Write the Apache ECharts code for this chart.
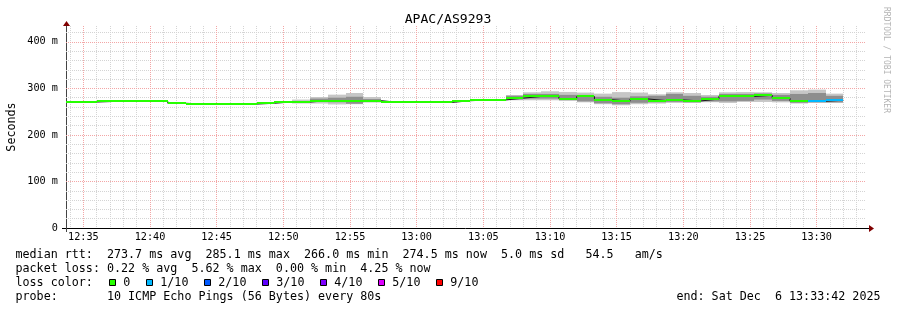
<!DOCTYPE html>
<html><head><meta charset="utf-8">
<script src="https://cdn.jsdelivr.net/npm/echarts@6/dist/echarts.min.js"></script>
<style>html,body{margin:0;padding:0;background:#fff}#c{width:897px;height:310px}</style>
</head><body><div id="c"></div>
<script>
// ---------------- data ----------------
const stepEnd = ['12:34:40','12:36:00','12:37:20','12:38:40','12:40:00','12:41:20','12:42:40','12:44:00','12:45:20','12:46:40','12:48:00','12:49:20','12:50:40','12:52:00','12:53:20','12:54:40','12:56:00','12:57:20','12:58:40','13:00:00','13:01:20','13:02:40','13:04:00','13:05:20','13:06:40','13:08:00','13:09:20','13:10:40','13:12:00','13:13:20','13:14:40','13:16:00','13:17:20','13:18:40','13:20:00','13:21:20','13:22:40','13:24:00','13:25:20','13:26:40','13:28:00','13:29:20','13:30:40','13:32:00'];
const median = [270.6,270.6,271.9,272.7,272.7,272.7,268.0,266.2,266.2,266.2,266.2,268.0,270.8,270.5,273.8,273.4,273.4,273.6,269.8,269.8,269.8,269.8,273.4,275.1,275.1,279.0,282.6,282.6,278.0,282.6,275.5,272.3,277.3,273.8,275.1,273.0,277.0,283.0,282.6,285.1,279.0,272.3,272.3,274.5];
const smokeMin = [270,270,271,272,272,272,267.5,265.5,265.5,265.5,265.5,267.5,270,267.5,267.4,265.4,266,269.5,269,269,269,269,273,274.5,274.5,274.4,274.4,274.4,273,270,266,263.7,266,267.4,268.7,268.7,270.2,268.7,270.8,270.8,270,267.4,268.7,268.7];
const smokeLo  = [270.5,270.5,271.5,272.5,272.5,272.5,268,266,266,266,266,268,270.5,269,271,270,267,271,269.5,269.5,269.5,269.5,273.2,275,275,276,278,278,275,272,268,266,269,270,271,270,272,272,273,276,273,269,270,270];
const smokeHi  = [270.8,270.8,272,273,273,273,268.2,266.3,266.3,266.3,266.3,268.2,271,272,278,280,282,277,270,270,270,270,273.6,275.3,275.3,284,288,288,286,286,282,280,283,284,288,284,282,288,288,289,286,288,290,284];
const smokeMax = [271,271,272.5,273.5,273.5,273.5,268.5,266.5,266.5,266.5,266.5,268.5,271.5,276,281.5,286.5,290,281.5,270.5,270.5,270.5,270.5,274,276,276,285.8,291.6,293.7,292.3,291,288.7,292,291,287.3,291.6,290,285.8,291.6,292,291.6,290,295.8,297.3,288.7];
const lossPings = [0,0,0,0,0,0,0,0,0,0,0,0,0,0,0,0,0,0,0,0,0,0,0,0,0,0,0,0,0,0,0,0,0,0,0,0,0,0,0,0,0,0,1,1];
const xTickLabels = ['12:35','12:40','12:45','12:50','12:55','13:00','13:05','13:10','13:15','13:20','13:25','13:30'];
const yTickLabels = ['0','100 m','200 m','300 m','400 m'];
const lossLegendLabels = ['0','1/10','2/10','3/10','4/10','5/10','9/10'];
const lossLegendColors = ['#26ff00','#00b8ff','#0059ff','#5e00ff','#7e00ff','#dd00ff','#ff0000'];
const lossLegendPings  = [0,1,2,3,4,5,9];
const STEP = 80;
const rangeStart = '12:33:42', rangeEnd = '13:33:42';
const legendLines = [
  'median rtt:  273.7 ms avg  285.1 ms max  266.0 ms min  274.5 ms now  5.0 ms sd   54.5   am/s',
  'packet loss: 0.22 % avg  5.62 % max  0.00 % min  4.25 % now',
  'loss color:',
  'probe:       10 ICMP Echo Pings (56 Bytes) every 80s'
];
const endText = 'end: Sat Dec  6 13:33:42 2025';
const titleText = 'APAC/AS9293';

// ---------------- helpers ----------------
const toSec = s => { const p = s.split(':').map(Number); return p[0]*3600 + p[1]*60 + (p[2]||0); };
const T0 = toSec(rangeStart), T1 = toSec(rangeEnd);
const majorX = xTickLabels.map(toSec);
const minorX = [];
for (let t = Math.ceil(T0/60)*60; t <= T1; t += 60) minorX.push(t);
function lossColor(n){ let idx = 0; for (let i=0;i<lossLegendPings.length;i++) if (n >= lossLegendPings[i]) idx = i; return lossLegendColors[idx]; }

const MONO = '"DejaVu Sans Mono", monospace';
const GREY = '#d4d4d4', RED = '#f3a6a6';

const chart = echarts.init(document.getElementById('c'), null, {renderer:'canvas'});

function smokeItem(params, api){
  const t1 = api.value(0), t0 = t1 - STEP;
  const mk = (lo, hi, color) => {
    const a = api.coord([t0, hi]), b = api.coord([t1, lo]);
    const x0 = Math.round(a[0]), x1 = Math.round(b[0]);
    return {type:'rect', shape:{x:x0, y:a[1], width:x1-x0, height:b[1]-a[1]}, style:{fill:color}};
  };
  return {type:'group', children:[
    mk(api.value(1), api.value(4), '#c6c6c6'),
    mk(api.value(2), api.value(3), '#8e8e8e')
  ]};
}
function medItem(params, api){
  const t1 = api.value(0), t0 = t1 - STEP;
  const a = api.coord([t0, api.value(1)]), b = api.coord([t1, api.value(1)]);
  const x0 = Math.round(a[0]), x1 = Math.round(b[0]);
  const y = Math.round(a[1] - 1);
  return {type:'rect', shape:{x:x0, y:y, width:x1-x0, height:2}, style:{fill: lossColor(api.value(2))}};
}

const graphics = [
  {type:'text', x:448, y:19.5, style:{text:titleText, font:'13.1px '+MONO, fill:'#000', align:'center', verticalAlign:'middle'}},
  {type:'text', x:11.5, y:127, rotation:Math.PI/2, style:{text:'Seconds', font:'11.7px '+MONO, fill:'#000', align:'center', verticalAlign:'middle'}},
  {type:'text', x:886.5, y:60, rotation:-Math.PI/2, style:{text:'RRDTOOL / TOBI OETIKER', font:'8px '+MONO, fill:'#b4b4b4', align:'center', verticalAlign:'middle'}},
  // axis extensions & arrows
  {type:'line', shape:{x1:62, y1:228.5, x2:869, y2:228.5}, style:{stroke:'#000', lineWidth:1}},
  {type:'polygon', shape:{points:[[869,225],[874,228.5],[869,232]]}, style:{fill:'#800000'}},
  {type:'line', shape:{x1:66.5, y1:232, x2:66.5, y2:25}, style:{stroke:'#444', lineWidth:1}},
  {type:'polygon', shape:{points:[[63,26],[66.5,21],[70,26]]}, style:{fill:'#800000'}},
  {type:'text', x:880.5, y:296.7, style:{text:endText, font:'11.7px '+MONO, fill:'#000', align:'right', verticalAlign:'middle'}}
];
const rowsY = [255, 268.5, 282.7, 296.7];
legendLines.forEach((s,i)=>graphics.push({type:'text', x:15.5, y:rowsY[i], style:{text:s, font:'11.7px '+MONO, fill:'#000', align:'left', verticalAlign:'middle'}}));
lossLegendLabels.forEach((lab,i)=>{
  const x = i===0 ? 109 : 146 + 58*(i-1);
  graphics.push({type:'rect', shape:{x:x+0.5, y:279.5, width:6, height:6}, style:{fill:lossLegendColors[i], stroke:'#000', lineWidth:1}});
  graphics.push({type:'text', x:x+14.3, y:282.7, style:{text:lab, font:'11.7px '+MONO, fill:'#000', align:'left', verticalAlign:'middle'}});
});

const option = {
  animation:false,
  backgroundColor:'#fff',
  grid:{left:66, top:26, width:800, height:202, containLabel:false, outerBoundsMode:'none'},
  xAxis:[
    {type:'value', min:T0, max:T1, z:1,
     axisLine:{show:false}, axisTick:{show:false, customValues:majorX},
     axisLabel:{customValues:majorX, margin:4, color:'#000', fontFamily:MONO, fontSize:10.2,
       formatter:v=>{const i=majorX.indexOf(v); return i>=0?xTickLabels[i]:'';}},
     splitLine:{show:true, lineStyle:{color:RED, width:1, type:[1,1]}}},
    {type:'value', min:T0, max:T1, position:'bottom', z:0,
     axisLine:{show:false}, axisTick:{show:false, customValues:minorX}, axisLabel:{show:false},
     splitLine:{show:true, lineStyle:{color:GREY, width:1, type:[1,1]}}}
  ],
  yAxis:[
    {type:'value', min:0, max:434, interval:100, z:1,
     axisLine:{show:false}, axisTick:{show:false},
     axisLabel:{margin:8, color:'#000', fontFamily:MONO, fontSize:10.2, showMaxLabel:false,
       formatter:v=>{const i=Math.round(v/100); return (v%100===0 && yTickLabels[i]!==undefined)?yTickLabels[i]:'';}},
     splitLine:{show:true, showMaxLine:false, showMinLine:false, lineStyle:{color:RED, width:1, type:[1,1]}}},
    {type:'value', min:0, max:434, interval:20, position:'left', z:0,
     axisLine:{show:false}, axisTick:{show:false}, axisLabel:{show:false},
     splitLine:{show:true, showMaxLine:false, showMinLine:false, lineStyle:{color:GREY, width:1, type:[1,1]}}}
  ],
  series:[
    {type:'custom', name:'smoke', clip:true, z:2, silent:true,
     data: stepEnd.map((s,i)=>[toSec(s), smokeMin[i], smokeLo[i], smokeHi[i], smokeMax[i]]),
     encode:{x:0, y:[1,2,3,4]}, renderItem:smokeItem},
    {type:'line', name:'median', step:'start', symbol:'none', z:3, silent:true,
     lineStyle:{color:'#1a1a1a', width:1},
     data: stepEnd.map((s,i)=>[toSec(s), median[i]])},
    {type:'custom', name:'medianLoss', clip:true, z:4, silent:true,
     data: stepEnd.map((s,i)=>[toSec(s), median[i], lossPings[i]]),
     encode:{x:0, y:1}, renderItem:medItem}
  ],
  graphic: graphics
};
chart.setOption(option);
</script></body></html>
